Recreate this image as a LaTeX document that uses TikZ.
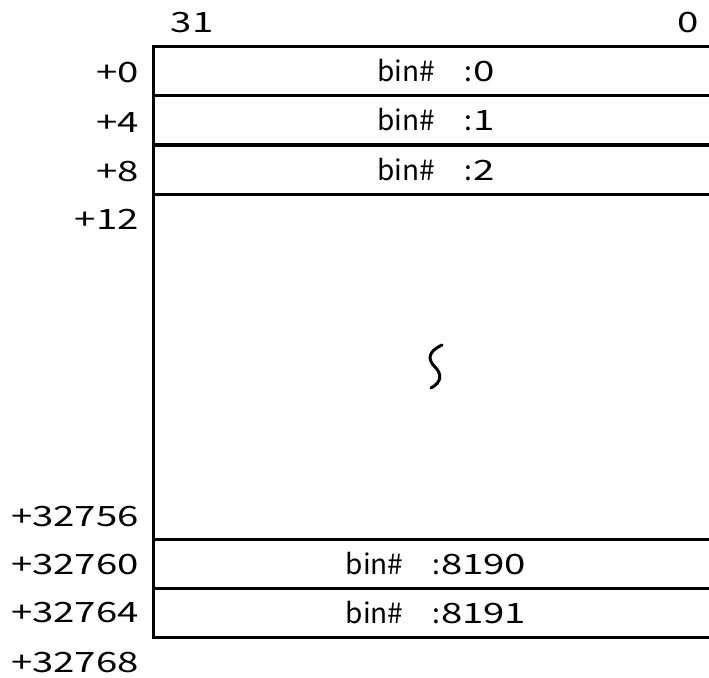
\documentclass[tikz,border=0pt]{standalone}
\usepackage{fontspec}
\setmainfont{Noto Sans CJK JP}
\newfontfamily\digf{Noto Sans CJK JP}[FakeStretch=1.37]
\newcommand{\binlab}[1]{bin\#\hspace{29pt}:\hspace{1pt}{\digf #1}}
\begin{document}
\begin{tikzpicture}[x=1pt,y=-1pt,
  txt/.style={font=\fontsize{28}{28}\selectfont, inner sep=0pt},
  rowbox/.style={draw, line width=3pt, minimum width=566pt, minimum height=49pt, inner sep=0pt, text height=21pt, text depth=0pt, txt},
  addr/.style={anchor=base east, txt, font=\fontsize{28}{28}\selectfont\digf},
  hdr/.style={anchor=base, txt, font=\fontsize{28}{28}\selectfont\digf}]
\useasboundingbox (0,0) rectangle (709,677);
\clip (0,0) rectangle (709,677);
% header
\node[hdr] (h31) at (192,33) {31};
\node[hdr] (h0) at (688,33) {0};
% rows
\node[rowbox] (r0) at (436,71.1) {\binlab{0}};
\node[rowbox] (r1) at (436,120.4) {\binlab{1}};
\node[rowbox] (r2) at (436,169.5) {\binlab{2}};
\node[rowbox, minimum height=345pt] (gap) at (436,366.5) {};
\node[rowbox] (r8190) at (436,563.5) {\binlab{8190}};
\node[rowbox] (r8191) at (436,612.5) {\binlab{8191}};
% squiggle
\draw[line width=3pt, line cap=round] (442,345) .. controls (427,352) and (428,360) .. (435,367) .. controls (442,374) and (442,382) .. (431,388);
% addresses
\node[addr] (a0) at (139,82.5) {+0};
\node[addr] (a4) at (139,132.5) {+4};
\node[addr] (a8) at (139,181.5) {+8};
\node[addr] (a12) at (139,229.5) {+12};
\node[addr] (a32756) at (139,526.5) {+32756};
\node[addr] (a32760) at (139,574.5) {+32760};
\node[addr] (a32764) at (139,622.5) {+32764};
\node[addr] (a32768) at (139,672.5) {+32768};
\end{tikzpicture}
\end{document}
